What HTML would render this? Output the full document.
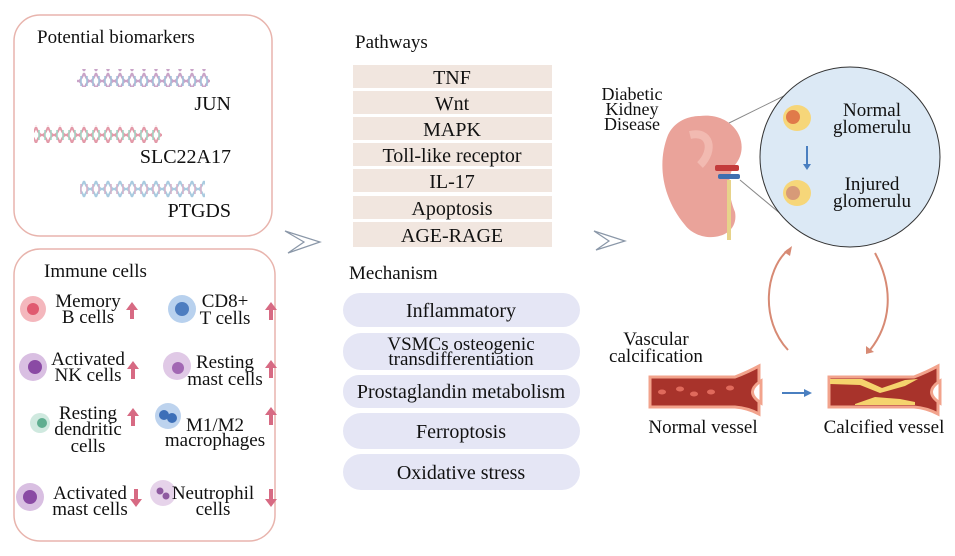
<!DOCTYPE html>
<html><head><meta charset="utf-8"><style>
body{margin:0;background:#fff;}
svg{display:block;font-family:"Liberation Serif",serif;}
</style></head><body>
<svg width="955" height="556" viewBox="0 0 955 556" xmlns="http://www.w3.org/2000/svg">
<defs>
<pattern id="dna1" width="12" height="18" patternUnits="userSpaceOnUse">
<path d="M0 1 Q6 17 12 1 M0 17 Q6 1 12 17" stroke="#c9a4c8" stroke-width="2" fill="none"/>
<line x1="3" y1="4" x2="3" y2="14" stroke="#9fc1da" stroke-width="1.5"/><line x1="9" y1="4" x2="9" y2="14" stroke="#9fc1da" stroke-width="1.5"/>
</pattern>
<pattern id="dna2" width="12" height="18" patternUnits="userSpaceOnUse">
<path d="M0 1 Q6 17 12 1 M0 17 Q6 1 12 17" stroke="#e39aa9" stroke-width="2" fill="none"/>
<line x1="3" y1="4" x2="3" y2="14" stroke="#9fd6c4" stroke-width="1.5"/><line x1="9" y1="4" x2="9" y2="14" stroke="#9fd6c4" stroke-width="1.5"/>
</pattern>
<pattern id="dna3" width="12" height="18" patternUnits="userSpaceOnUse">
<path d="M0 1 Q6 17 12 1 M0 17 Q6 1 12 17" stroke="#a9cbe0" stroke-width="2" fill="none"/>
<line x1="3" y1="4" x2="3" y2="14" stroke="#d6b1c9" stroke-width="1.5"/><line x1="9" y1="4" x2="9" y2="14" stroke="#d6b1c9" stroke-width="1.5"/>
</pattern>
</defs>
<rect x="14" y="15" width="258" height="221" rx="26" fill="#fff" stroke="#e8b4ad" stroke-width="1.5"/>
<rect x="14" y="249" width="261" height="292" rx="26" fill="#fff" stroke="#e8b4ad" stroke-width="1.5"/>
<g font-size="19" fill="#111">
<text x="37" y="43">Potential biomarkers</text>
<rect x="77" y="69" width="133" height="18" fill="url(#dna1)"/>
<rect x="34" y="125" width="128" height="18" fill="url(#dna2)"/>
<rect x="80" y="180" width="125" height="18" fill="url(#dna3)"/>
<text x="44" y="277">Immune cells</text>
</g>
<g font-size="20" fill="#111" text-anchor="end">
<text x="231" y="110">JUN</text>
<text x="231" y="163">SLC22A17</text>
<text x="231" y="217">PTGDS</text>
</g>
<g font-size="19" fill="#111" text-anchor="middle">
<circle cx="33" cy="309" r="13" fill="#f4b7bd"/><circle cx="33" cy="309" r="6" fill="#e05a70"/>
<text x="88" y="307">Memory</text><text x="88" y="323">B cells</text>
<circle cx="182" cy="309" r="14" fill="#b8d1ee"/><circle cx="182" cy="309" r="7" fill="#4d7dc0"/>
<text x="225" y="307">CD8+</text><text x="225" y="324">T cells</text>
<circle cx="33" cy="367" r="14" fill="#d9bfe2"/><circle cx="35" cy="367" r="7" fill="#8a4aa4"/>
<text x="88" y="365">Activated</text><text x="88" y="381">NK cells</text>
<circle cx="177" cy="366" r="14" fill="#e0c9e6"/><circle cx="178" cy="368" r="6" fill="#a268b3"/>
<text x="225" y="368">Resting</text><text x="225" y="385">mast cells</text>
<circle cx="40" cy="423" r="10" fill="#cfe9df"/><circle cx="42" cy="423" r="5" fill="#5fae90"/>
<text x="88" y="419">Resting</text><text x="88" y="435">dendritic</text><text x="88" y="452">cells</text>
<circle cx="168" cy="416" r="13" fill="#bdd3ee"/><circle cx="164" cy="415" r="5" fill="#3d6fb8"/><circle cx="172" cy="418" r="5" fill="#3d6fb8"/>
<text x="215" y="431">M1/M2</text><text x="215" y="446">macrophages</text>
<circle cx="30" cy="497" r="14" fill="#d9bfe2"/><circle cx="30" cy="497" r="7" fill="#8a4aa4"/>
<text x="90" y="499">Activated</text><text x="90" y="515">mast cells</text>
<circle cx="163" cy="493" r="13" fill="#e6d3ea"/><circle cx="160" cy="491" r="3.5" fill="#8e5aa0"/><circle cx="166" cy="496" r="3.5" fill="#8e5aa0"/>
<text x="213" y="499">Neutrophil</text><text x="213" y="515">cells</text>
</g>
<g fill="#d76a83">
<path d="M130 319h4v-9h4l-6-8-6 8h4z"/><path d="M269 320h4v-10h4l-6-8-6 8h4z"/>
<path d="M131 379h4v-10h4l-6-8-6 8h4z"/><path d="M269 378h4v-10h4l-6-8-6 8h4z"/>
<path d="M131 426h4v-10h4l-6-8-6 8h4z"/><path d="M269 425h4v-10h4l-6-8-6 8h4z"/>
<path d="M134 489h4v10h4l-6 8-6-8h4z"/><path d="M269 489h4v10h4l-6 8-6-8h4z"/>
</g>
<path d="M285 231 L320 242 L288 253 L304 242 Z" fill="none" stroke="#8a97a8" stroke-width="1.2"/>
<path d="M594 231 L625 241 L596 250 L609 241 Z" fill="none" stroke="#8a97a8" stroke-width="1.2"/>
<g font-size="19" fill="#111" text-anchor="start">
<text x="355" y="48">Pathways</text>
<text x="349" y="279">Mechanism</text>
</g>
<g font-size="20" fill="#111" text-anchor="middle">
<rect x="353" y="65" width="199" height="23" fill="#f1e6df"/><text x="452" y="84">TNF</text>
<rect x="353" y="91" width="199" height="23" fill="#f1e6df"/><text x="452" y="110">Wnt</text>
<rect x="353" y="117" width="199" height="23" fill="#f1e6df"/><text x="452" y="136">MAPK</text>
<rect x="353" y="143" width="199" height="23" fill="#f1e6df"/><text x="452" y="162">Toll-like receptor</text>
<rect x="353" y="169" width="199" height="23" fill="#f1e6df"/><text x="452" y="188">IL-17</text>
<rect x="353" y="196" width="199" height="23" fill="#f1e6df"/><text x="452" y="215">Apoptosis</text>
<rect x="353" y="222" width="199" height="25" fill="#f1e6df"/><text x="452" y="242">AGE-RAGE</text>
<rect x="343" y="293" width="237" height="34" rx="17" fill="#e5e6f5"/><text x="461" y="317">Inflammatory</text>
<rect x="343" y="333" width="237" height="37" rx="18" fill="#e5e6f5"/>
<text x="461" y="350" font-size="19">VSMCs osteogenic</text><text x="461" y="365" font-size="19">transdifferentiation</text>
<rect x="343" y="375" width="237" height="33" rx="16" fill="#e5e6f5"/><text x="461" y="398">Prostaglandin metabolism</text>
<rect x="343" y="413" width="237" height="36" rx="18" fill="#e5e6f5"/><text x="461" y="438">Ferroptosis</text>
<rect x="343" y="454" width="237" height="36" rx="18" fill="#e5e6f5"/><text x="461" y="479">Oxidative stress</text>
</g>
<g font-size="18" fill="#111" text-anchor="middle">
<text x="632" y="100">Diabetic</text><text x="632" y="115">Kidney</text><text x="632" y="130">Disease</text>
</g>
<line x1="725" y1="125" x2="800" y2="88" stroke="#888" stroke-width="1"/>
<line x1="740" y1="180" x2="800" y2="230" stroke="#888" stroke-width="1"/>
<path d="M700 116 C735 112 752 145 735 165 C725 178 730 200 735 212 C740 240 700 245 685 225 C660 195 658 160 668 135 C675 120 690 116 700 116 Z" fill="#eaa39a"/>
<path d="M690 135 C710 130 715 150 700 165" fill="none" stroke="#f6c9c2" stroke-width="8" opacity=".6"/>
<rect x="715" y="165" width="24" height="6" fill="#c33b3b" rx="2"/>
<rect x="718" y="174" width="22" height="5" fill="#3f6fb0" rx="2"/>
<path d="M727 180 L727 240 L731 240 L731 180Z" fill="#e7d38a"/>
<circle cx="850" cy="157" r="90" fill="#dce9f5" stroke="#333" stroke-width="1"/>
<ellipse cx="797" cy="118" rx="14" ry="13" fill="#f6d679"/><circle cx="793" cy="117" r="7" fill="#e07a4a"/>
<ellipse cx="797" cy="193" rx="14" ry="13" fill="#f6d679"/><circle cx="793" cy="193" r="7" fill="#d79a78"/>
<line x1="807" y1="146" x2="807" y2="166" stroke="#4a7fc0" stroke-width="2"/><path d="M803 164 L811 164 L807 170Z" fill="#4a7fc0"/>
<g font-size="19" fill="#111" text-anchor="middle">
<text x="872" y="116">Normal</text><text x="872" y="133">glomerulu</text>
<text x="872" y="190">Injured</text><text x="872" y="207">glomerulu</text>
</g>
<path d="M788 350 C760 320 765 270 788 250" fill="none" stroke="#d78a74" stroke-width="2"/>
<path d="M784 252 L792 246 L790 256Z" fill="#d78a74"/>
<path d="M875 253 C895 290 890 325 870 350" fill="none" stroke="#d78a74" stroke-width="2"/>
<path d="M866 346 L874 352 L866 354Z" fill="#d78a74"/>
<g font-size="19" fill="#111" text-anchor="middle">
<text x="656" y="345">Vascular</text><text x="656" y="362">calcification</text>
<text x="703" y="433">Normal vessel</text><text x="884" y="433">Calcified vessel</text>
</g>
<path d="M650 377 L735 377 Q748 372 759 366 L759 414 Q748 408 735 407 L650 407Z" fill="#a8332b" stroke="#f2a38c" stroke-width="3"/>
<path d="M761 381 Q744 392 761 403 Z" fill="#fff" stroke="#f2a38c" stroke-width="3"/>
<path d="M829 377 L914 377 Q927 372 938 366 L938 414 Q927 408 914 407 L829 407Z" fill="#a8332b" stroke="#f2a38c" stroke-width="3"/>
<path d="M830 379 L862 379 L882 388 L905 380 L918 379 L905 386 L880 393 L860 385 L830 384Z" fill="#f5d36d"/>
<path d="M855 404 L875 397 L900 399 L915 402 L915 405 L855 405Z" fill="#f5d36d"/>
<path d="M940 381 Q923 392 940 403 Z" fill="#fff" stroke="#f2a38c" stroke-width="3"/>
<g fill="#e06a5c"><ellipse cx="662" cy="392" rx="4" ry="2.5"/><ellipse cx="680" cy="389" rx="4" ry="2.5"/><ellipse cx="694" cy="394" rx="4" ry="2.5"/><ellipse cx="711" cy="392" rx="4" ry="2.5"/><ellipse cx="730" cy="388" rx="4" ry="2.5"/></g>
<line x1="782" y1="393" x2="806" y2="393" stroke="#4a7fc0" stroke-width="2"/><path d="M804 389 L812 393 L804 397Z" fill="#4a7fc0"/>
</svg>
</body></html>
